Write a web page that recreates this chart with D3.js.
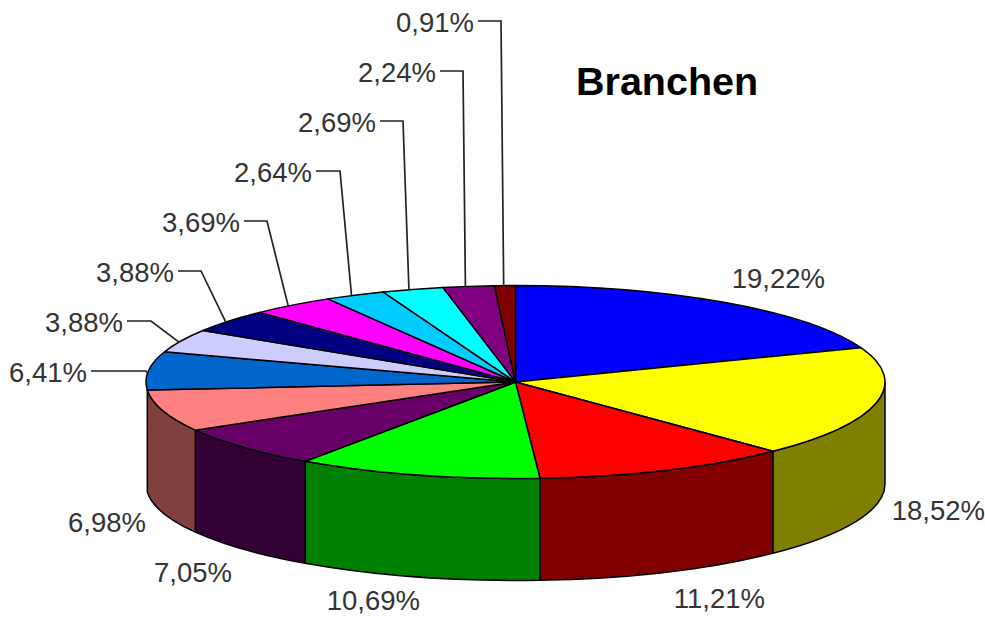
<!DOCTYPE html>
<html>
<head>
<meta charset="utf-8">
<title>Branchen</title>
<script src="https://cdn.jsdelivr.net/npm/d3@7/dist/d3.min.js"></script>
<style>
  html, body { margin: 0; padding: 0; background: #fff; }
  svg { display: block; }
  text { font-family: "Liberation Sans", Arial, sans-serif; }
</style>
</head>
<body>
<div id="chart"></div>
<script>
// Data
const title = "Branchen";
const values = [19.22, 18.52, 11.21, 10.69, 7.05, 6.98, 6.41, 3.88, 3.88, 3.69, 2.64, 2.69, 2.24, 0.91];
const labels = ["19,22%", "18,52%", "11,21%", "10,69%", "7,05%", "6,98%", "6,41%", "3,88%", "3,88%", "3,69%", "2,64%", "2,69%", "2,24%", "0,91%"];
const topColors = ["#0000ff", "#ffff00", "#ff0000", "#00ff00", "#660066", "#ff8080", "#0066cc", "#ccccff", "#000080", "#ff00ff", "#00ccff", "#00ffff", "#800080", "#800000"];
const sideColors = ["#000080", "#808000", "#800000", "#008000", "#330033", "#804040", "#003366", "#666680", "#000040", "#800080", "#006680", "#008080", "#400040", "#400000"];

// Set Dimensions
const width = 985;
const height = 617;
const cx = 515.5;
const cy = 382;
const rx = 369.5;
const ry = 96.5;
const depth = 102;

// Label placement, same order as values: [right edge of text, baseline]
const labelPos = [
  [825, 288], [985, 520], [765, 608], [420, 610], [232, 582], [146, 532], [87, 382],
  [123, 332], [174, 282], [240, 232], [312, 182], [376, 132], [436, 82], [474, 32]
];
// Leaders for the small slices: index of slice -> elbow point
const leaderElbows = {
  6: [146, 371], 7: [151, 321], 8: [201, 271], 9: [267, 221],
  10: [340, 171], 11: [403, 121], 12: [463, 71], 13: [501, 21]
};

const svg = d3.select("#chart")
  .append("svg")
  .attr("width", width)
  .attr("height", height);

// Pie layout, clockwise from 12 o'clock
const slices = d3.pie().sort(null)(values);
const px = a => cx + rx * Math.sin(a);
const py = a => cy - ry * Math.cos(a);

// Walls: only the front half of the rim is visible
const wallPath = function (d) {
  const a0 = Math.max(d.startAngle, Math.PI / 2);
  const a1 = Math.min(d.endAngle, Math.PI * 1.5);
  return "M" + px(a0) + "," + py(a0)
    + "A" + rx + "," + ry + " 0 0 1 " + px(a1) + "," + py(a1)
    + "L" + px(a1) + "," + (py(a1) + depth)
    + "A" + rx + "," + ry + " 0 0 0 " + px(a0) + "," + (py(a0) + depth)
    + "Z";
};

svg.append("g")
  .selectAll("path")
  .data(slices.filter(d => d.endAngle > Math.PI / 2 && d.startAngle < Math.PI * 1.47))
  .enter().append("path")
  .attr("d", wallPath)
  .attr("fill", d => sideColors[d.index])
  .attr("stroke", "#000")
  .attr("stroke-width", 1.5)
  .attr("stroke-linejoin", "round");

// Top faces: a flat d3.arc squashed to an ellipse
const arc = d3.arc().innerRadius(0).outerRadius(rx);

svg.append("g")
  .attr("transform", "translate(" + cx + "," + cy + ") scale(1," + (ry / rx) + ")")
  .selectAll("path")
  .data(slices)
  .enter().append("path")
  .attr("d", arc)
  .attr("fill", d => topColors[d.index])
  .attr("stroke", "#000")
  .attr("stroke-width", 1.5)
  .attr("stroke-linejoin", "round")
  .attr("vector-effect", "non-scaling-stroke");

// Leader lines, they hit the rim a bit before the middle of the slice
svg.append("g")
  .selectAll("path")
  .data(slices.filter(d => leaderElbows[d.index]))
  .enter().append("path")
  .attr("d", function (d) {
    const hit = d.startAngle + (d.endAngle - d.startAngle) * 0.44;
    const elbow = leaderElbows[d.index];
    const startX = labelPos[d.index][0] + 4;
    return d3.line()([[startX, elbow[1]], elbow, [px(hit), py(hit)]]);
  })
  .attr("fill", "none")
  .attr("stroke", "#222")
  .attr("stroke-width", 1.7);

// Labels
svg.append("g")
  .selectAll("text")
  .data(labels)
  .enter().append("text")
  .attr("x", (d, i) => labelPos[i][0])
  .attr("y", (d, i) => labelPos[i][1])
  .attr("text-anchor", "end")
  .attr("font-size", 27.5)
  .attr("fill", "#333")
  .text(d => d);

// Title
svg.append("text")
  .attr("x", 576)
  .attr("y", 95)
  .attr("font-size", 39.5)
  .attr("font-weight", "bold")
  .attr("fill", "#000")
  .text(title);
</script>
</body>
</html>
